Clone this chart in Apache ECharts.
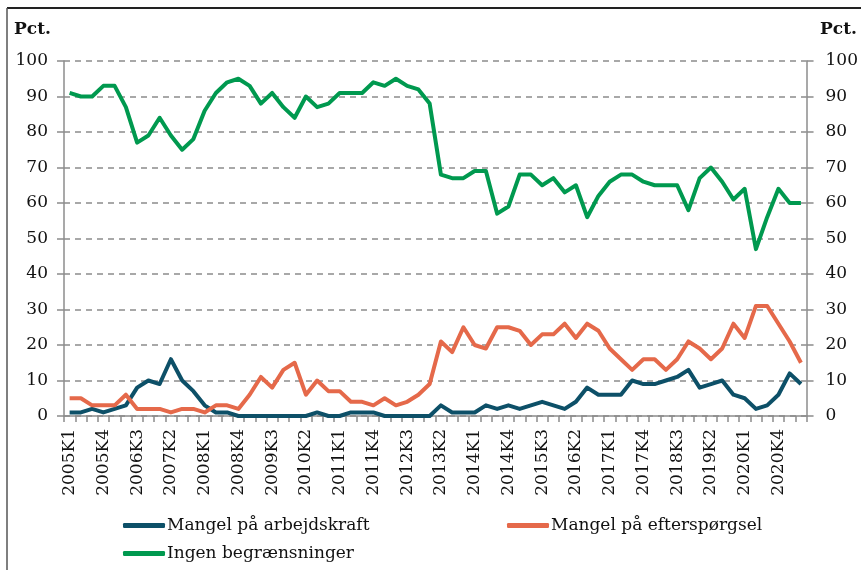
<!DOCTYPE html>
<html>
<head>
<meta charset="utf-8">
<script src="https://cdn.jsdelivr.net/npm/echarts@6/dist/echarts.min.js"></script>
<style>
  html, body { margin: 0; padding: 0; background: #fff; }
  #chart { width: 861px; height: 570px; }
</style>
</head>
<body>
<div id="chart"></div>
<script>
const quarters = [
  '2005K1','2005K2','2005K3','2005K4','2006K1','2006K2','2006K3','2006K4',
  '2007K1','2007K2','2007K3','2007K4','2008K1','2008K2','2008K3','2008K4',
  '2009K1','2009K2','2009K3','2009K4','2010K1','2010K2','2010K3','2010K4',
  '2011K1','2011K2','2011K3','2011K4','2012K1','2012K2','2012K3','2012K4',
  '2013K1','2013K2','2013K3','2013K4','2014K1','2014K2','2014K3','2014K4',
  '2015K1','2015K2','2015K3','2015K4','2016K1','2016K2','2016K3','2016K4',
  '2017K1','2017K2','2017K3','2017K4','2018K1','2018K2','2018K3','2018K4',
  '2019K1','2019K2','2019K3','2019K4','2020K1','2020K2','2020K3','2020K4',
  '2021K1','2021K2'
]
const arbejdskraft = [
  1, 1, 2, 1, 2, 3, 8, 10, 9, 16, 10, 7, 3, 1, 1, 0,
  0, 0, 0, 0, 0, 0, 1, 0, 0, 1, 1, 1, 0, 0, 0, 0,
  0, 3, 1, 1, 1, 3, 2, 3, 2, 3, 4, 3, 2, 4, 8, 6,
  6, 6, 10, 9, 9, 10, 11, 13, 8, 9, 10, 6, 5, 2, 3, 6,
  12, 9
]
const efterspoergsel = [
  5, 5, 3, 3, 3, 6, 2, 2, 2, 1, 2, 2, 1, 3, 3, 2,
  6, 11, 8, 13, 15, 6, 10, 7, 7, 4, 4, 3, 5, 3, 4, 6,
  9, 21, 18, 25, 20, 19, 25, 25, 24, 20, 23, 23, 26, 22, 26, 24,
  19, 16, 13, 16, 16, 13, 16, 21, 19, 16, 19, 26, 22, 31, 31, 26,
  21, 15
]
const ingen = [
  91, 90, 90, 93, 93, 87, 77, 79, 84, 79, 75, 78, 86, 91, 94, 95,
  93, 88, 91, 87, 84, 90, 87, 88, 91, 91, 91, 94, 93, 95, 93, 92,
  88, 68, 67, 67, 69, 69, 57, 59, 68, 68, 65, 67, 63, 65, 56, 62,
  66, 68, 68, 66, 65, 65, 65, 58, 67, 70, 66, 61, 64, 47, 56, 64,
  60, 60
]

const font = '"DejaVu Serif", "Liberation Serif", serif'
const colBlue = '#0D5068'
const colOrange = '#E5694A'
const colGreen = '#00994F'
const axisGrey = '#8C8C8C'

const chart = echarts.init(document.getElementById('chart'), null, { renderer: 'canvas' })

const yAxisBase = {
  type: 'value',
  min: 0,
  max: 100,
  interval: 10,
  axisLine: { show: true, lineStyle: { color: axisGrey, width: 1.5 } },
  axisTick: { show: true, length: 7, lineStyle: { color: axisGrey, width: 1.5 } },
  axisLabel: { color: '#111', fontFamily: font, fontSize: 17 }
}

const legendBase = {
  itemWidth: 42,
  itemHeight: 5,
  itemGap: 2,
  icon: 'roundRect',
  textStyle: { color: '#111', fontFamily: font, fontSize: 17, padding: [0, 0, 0, -3] }
}

chart.setOption({
  animation: false,
  grid: { left: 64, right: 54, top: 61, bottom: 154, containLabel: false },
  xAxis: {
    type: 'category',
    data: quarters,
    boundaryGap: true,
    axisLine: { lineStyle: { color: axisGrey, width: 1.5 } },
    axisTick: { show: true, interval: 0, length: 6, lineStyle: { color: axisGrey, width: 1.5 } },
    axisLabel: {
      interval: 2,
      rotate: 90,
      margin: 13,
      color: '#111',
      fontFamily: font,
      fontSize: 17
    }
  },
  yAxis: [
    Object.assign({}, yAxisBase, {
      position: 'left',
      axisLabel: Object.assign({}, yAxisBase.axisLabel, { margin: 16 }),
      splitLine: { show: true, lineStyle: { color: '#8C8C8C', type: [6, 5], width: 1.5 } }
    }),
    Object.assign({}, yAxisBase, {
      position: 'right',
      axisLabel: Object.assign({}, yAxisBase.axisLabel, { margin: 19 }),
      splitLine: { show: false }
    })
  ],
  legend: [
    Object.assign({}, legendBase, { left: 118, top: 512, data: ['Mangel på arbejdskraft'] }),
    Object.assign({}, legendBase, { left: 502, top: 512, data: ['Mangel på efterspørgsel'] }),
    Object.assign({}, legendBase, { left: 118, top: 540, data: ['Ingen begrænsninger'] })
  ],
  series: [
    {
      name: 'Mangel på arbejdskraft',
      type: 'line',
      data: arbejdskraft,
      symbol: 'none',
      color: colBlue,
      lineStyle: { width: 4, color: colBlue, join: 'round' }
    },
    {
      name: 'Mangel på efterspørgsel',
      type: 'line',
      data: efterspoergsel,
      symbol: 'none',
      color: colOrange,
      lineStyle: { width: 4, color: colOrange, join: 'round' }
    },
    {
      name: 'Ingen begrænsninger',
      type: 'line',
      data: ingen,
      symbol: 'none',
      color: colGreen,
      lineStyle: { width: 4, color: colGreen, join: 'round' }
    }
  ],
  graphic: [
    { type: 'line', shape: { x1: 7, y1: 8, x2: 861, y2: 8 }, style: { stroke: '#222', lineWidth: 2 } },
    { type: 'line', shape: { x1: 7, y1: 8, x2: 7, y2: 570 }, style: { stroke: '#555', lineWidth: 1.5 } },
    { type: 'text', left: 14, top: 21, style: { text: 'Pct.', font: 'bold 17px ' + font, fill: '#111' } },
    { type: 'text', left: 820, top: 21, style: { text: 'Pct.', font: 'bold 17px ' + font, fill: '#111' } }
  ]
})
</script>
</body>
</html>
